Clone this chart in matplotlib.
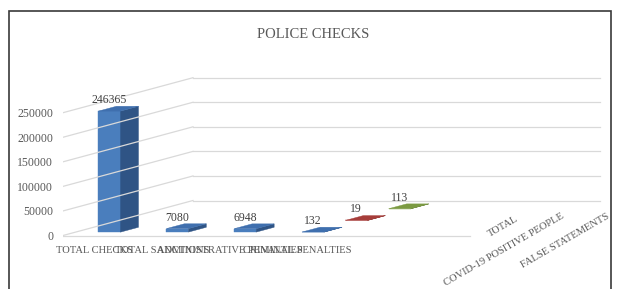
import matplotlib.pyplot as plt
from matplotlib.patches import Polygon, Rectangle

# ---------------- data ----------------
CATEGORIES = ["TOTAL CHECKS", "TOTAL SANCTIONS", "ADMINISTRATIVE PENALTIES",
              "CRIMINAL PENALTIES", "", ""]
SERIES = ["TOTAL", "COVID-19 POSITIVE PEOPLE", "FALSE STATEMENTS"]
TOTAL = [246365, 7080, 6948, 132, None, None]
COVID = [None, None, None, 19, None, None]
FALSE_ST = [None, None, None, 113, None, None]
VALUES = [TOTAL, COVID, FALSE_ST]
Y_TICKS = [0, 50000, 100000, 150000, 200000, 250000]

# (front, side, top) per series
COLORS = [("#4a7ebd", "#2f5485", "#3f6fae"),
          ("#b2443f", "#7d2b28", "#a63d3a"),
          ("#86a64a", "#5a732f", "#7b9a42")]

# ---------------- geometry ----------------
W, H = 617, 289
PX_CAT = 67.83                 # px per category slot
VAL_PX = 250000 / 122.8        # value per px
DX = 130 / 3 / PX_CAT          # depth row -> x shift (category units)
DY = 35 / 3 * VAL_PX           # depth row -> y shift (value units)
BAR_W = 0.325
D0, D1 = 0.29, 0.705           # bar extent inside a depth row
GRID = "#d9d9d9"
TXT = "#595959"


def P(x, v, d):
    return (x + d * DX, v + d * DY)


plt.rcParams["font.family"] = ["Liberation Serif", "DejaVu Serif"]
fig = plt.figure(figsize=(W / 100, H / 100), dpi=100)
ax = fig.add_axes([63 / W, (H - 260) / H, 549 / W, 210 / H])
ax.set_xlim(0, 549 / PX_CAT)
ax.set_ylim(-(260 - 235.5) * VAL_PX, (235.5 - 50) * VAL_PX)
for s in ax.spines.values():
    s.set_visible(False)
ax.set_xticks([])
ax.set_yticks(Y_TICKS, [str(t) for t in Y_TICKS])
ax.tick_params(axis="y", length=0, pad=7, labelsize=8.5, labelcolor=TXT)

n_cat, n_ser = len(CATEGORIES), len(SERIES)

# walls
for t in Y_TICKS:
    ax.plot(*zip(P(0, t, 0), P(0, t, n_ser)), color=GRID, lw=0.9)
    ax.plot(*zip(P(0, t, n_ser), P(n_cat, t, n_ser)), color=GRID, lw=0.9)
ax.plot(*zip(P(0, 0, 0), P(n_cat, 0, 0)), color=GRID, lw=0.9)

# bars, back to front
for r in reversed(range(n_ser)):
    front, side, top = COLORS[r]
    for i, v in enumerate(VALUES[r]):
        if v is None:
            continue
        x0, x1 = i + 0.5 - BAR_W / 2, i + 0.5 + BAR_W / 2
        d0, d1 = r + D0, r + D1
        faces = [
            ([P(x0, 0, d0), P(x1, 0, d0), P(x1, v, d0), P(x0, v, d0)], front),
            ([P(x1, 0, d0), P(x1, 0, d1), P(x1, v, d1), P(x1, v, d0)], side),
            ([P(x0, v, d0), P(x1, v, d0), P(x1, v, d1), P(x0, v, d1)], top),
        ]
        for pts, c in faces:
            ax.add_patch(Polygon(pts, closed=True, fc=c, ec=c, lw=0.3))
        ax.annotate(str(v), P(i + 0.5, v, d0), xytext=(0, 8), textcoords="offset points",
                    ha="center", va="center", fontsize=8.5, color="#404040")

# category labels
for i, lab in enumerate(CATEGORIES):
    ax.annotate(lab, P(i + 0.5, 0, 0), xytext=(-2, -10.5), textcoords="offset points",
                ha="center", va="center", fontsize=7.6, color=TXT, annotation_clip=False)

# depth axis labels
DEPTH_XY = [(519, 220), (565, 218), (610, 218)]
for lab, (px, py) in zip(SERIES, DEPTH_XY):
    fig.text(px / W, 1 - py / H, lab, rotation=30, rotation_mode="anchor",
             ha="right", va="baseline", fontsize=7.6, color=TXT)

fig.text(313 / W, 1 - 35 / H, "POLICE CHECKS", ha="center", va="center",
         fontsize=10.5, color=TXT)
fig.add_artist(Rectangle((9 / W, -0.05), 602 / W, (H - 11) / H + 0.05,
                         transform=fig.transFigure, fill=False, ec="#3a3a3a", lw=1.2))

fig.savefig("out.png", dpi=100)
